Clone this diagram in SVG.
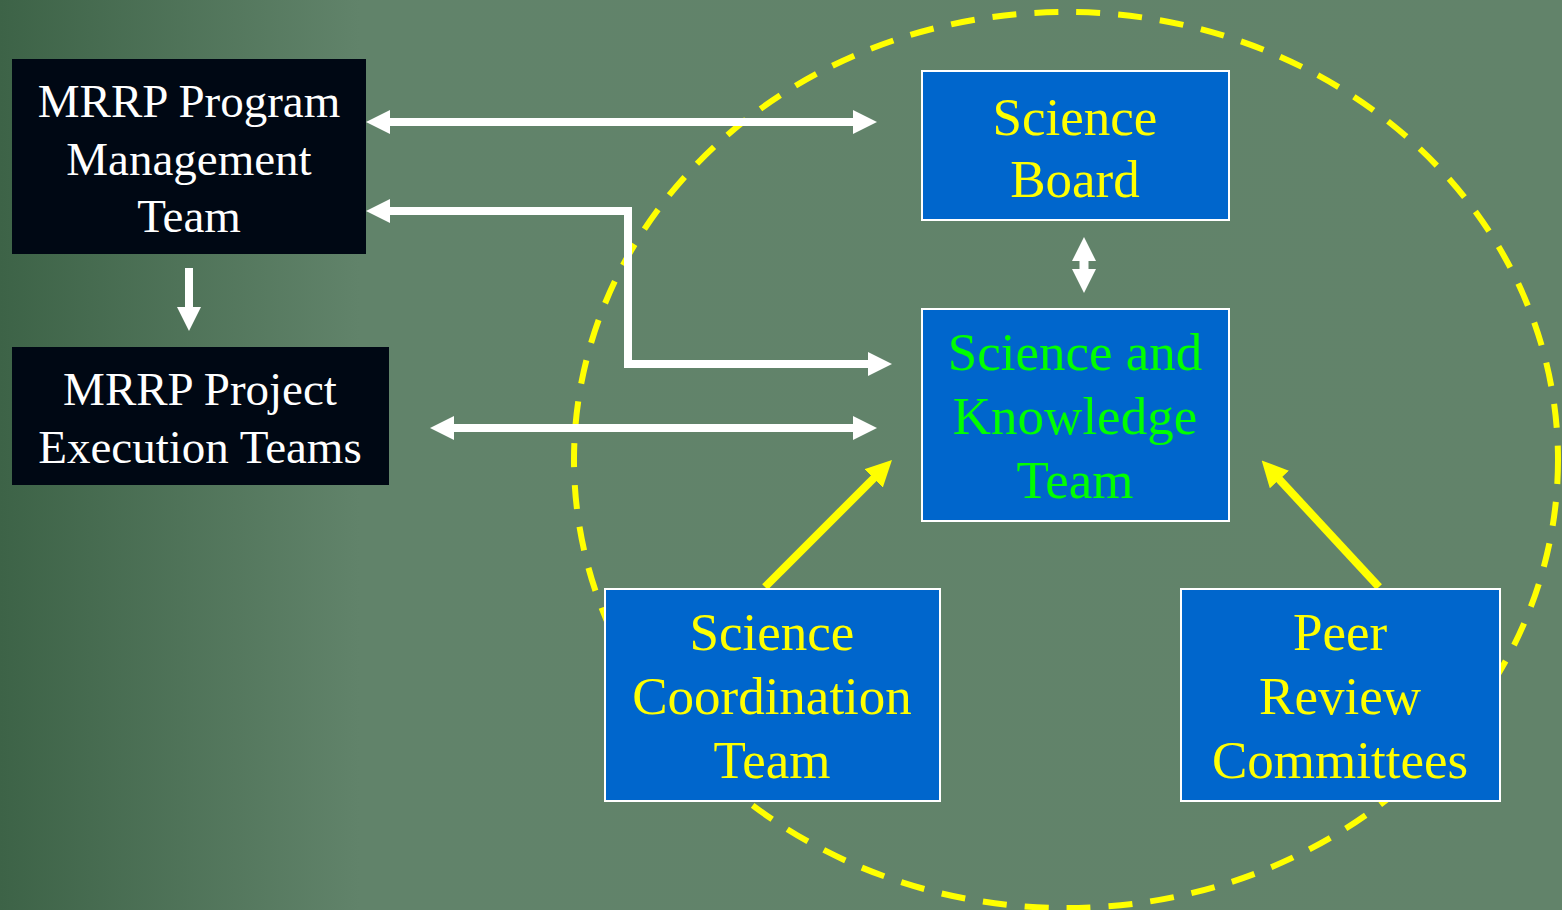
<svg xmlns="http://www.w3.org/2000/svg" width="1562" height="910" viewBox="0 0 1562 910">
<defs>
<linearGradient id="bg" x1="0" y1="0" x2="1562" y2="0" gradientUnits="userSpaceOnUse">
<stop offset="0" stop-color="#3d6347"/>
<stop offset="0.23" stop-color="#61836a"/>
<stop offset="1" stop-color="#62836a"/>
</linearGradient>
<marker id="wh" viewBox="0 0 24 24" refX="2" refY="12" markerWidth="24" markerHeight="24" markerUnits="userSpaceOnUse" orient="auto-start-reverse">
<path d="M0,0 L24,12 L0,24 Z" fill="#ffffff"/>
</marker>
<marker id="yh" viewBox="0 0 26 26" refX="2" refY="13" markerWidth="26" markerHeight="26" markerUnits="userSpaceOnUse" orient="auto">
<path d="M0,0 L26,13 L0,26 Z" fill="#ffff00"/>
</marker>
<style>
.blk{fill:#000814;}
.blu{fill:#0066cc;stroke:#ffffff;stroke-width:2;}
text{font-family:'Liberation Serif','Times New Roman','DejaVu Serif',serif;text-anchor:middle;}
.tw{font-size:47px;fill:#ffffff;}
.ty{font-size:53px;fill:#ffff00;}
.tg{font-size:53px;fill:#00ff00;}
.wl{fill:none;stroke:#ffffff;stroke-width:8;}
.yl{fill:none;stroke:#ffff00;stroke-width:8;}
</style>
</defs>
<rect x="0" y="0" width="1562" height="910" fill="url(#bg)"/>
<ellipse cx="1066" cy="460" rx="492" ry="448" fill="none" stroke="#ffff00" stroke-width="6" stroke-dasharray="24 18"/>
<g id="connectors">
<line class="wl" x1="388" y1="122" x2="855" y2="122" marker-start="url(#wh)" marker-end="url(#wh)"/>
<polyline class="wl" points="870,364 628,364 628,211 388,211" marker-start="url(#wh)" marker-end="url(#wh)"/>
<line class="wl" x1="452" y1="428" x2="855" y2="428" marker-start="url(#wh)" marker-end="url(#wh)"/>
<line class="wl" x1="189" y1="268" x2="189" y2="309" marker-end="url(#wh)"/>
<line x1="1084" y1="259" x2="1084" y2="271" stroke="#ffffff" stroke-width="9" marker-start="url(#wh)" marker-end="url(#wh)"/>
<line class="yl" x1="765" y1="587" x2="875" y2="477" marker-end="url(#yh)"/>
<line class="yl" x1="1379" y1="587" x2="1278" y2="478" marker-end="url(#yh)"/>
</g>
<g id="program-management" font-family="Liberation Serif, serif">
<rect class="blk" x="12" y="59" width="354" height="195"/>
<text class="tw" x="189" y="117">MRRP Program</text>
<text class="tw" x="189" y="175">Management</text>
<text class="tw" x="189" y="232">Team</text>
</g>
<g id="project-execution">
<rect class="blk" x="12" y="347" width="377" height="138"/>
<text class="tw" x="200" y="405">MRRP Project</text>
<text class="tw" x="200" y="463">Execution Teams</text>
</g>
<g id="science-board">
<rect class="blu" x="922" y="71" width="307" height="149"/>
<text class="ty" x="1075" y="135">Science</text>
<text class="ty" x="1075" y="197">Board</text>
</g>
<g id="science-knowledge">
<rect class="blu" x="922" y="309" width="307" height="212"/>
<text class="tg" x="1075" y="370">Science and</text>
<text class="tg" x="1075" y="434">Knowledge</text>
<text class="tg" x="1075" y="498">Team</text>
</g>
<g id="science-coordination">
<rect class="blu" x="605" y="589" width="335" height="212"/>
<text class="ty" x="772" y="650">Science</text>
<text class="ty" x="772" y="714">Coordination</text>
<text class="ty" x="772" y="778">Team</text>
</g>
<g id="peer-review">
<rect class="blu" x="1181" y="589" width="319" height="212"/>
<text class="ty" x="1340" y="650">Peer</text>
<text class="ty" x="1340" y="714">Review</text>
<text class="ty" x="1340" y="778">Committees</text>
</g>
</svg>
